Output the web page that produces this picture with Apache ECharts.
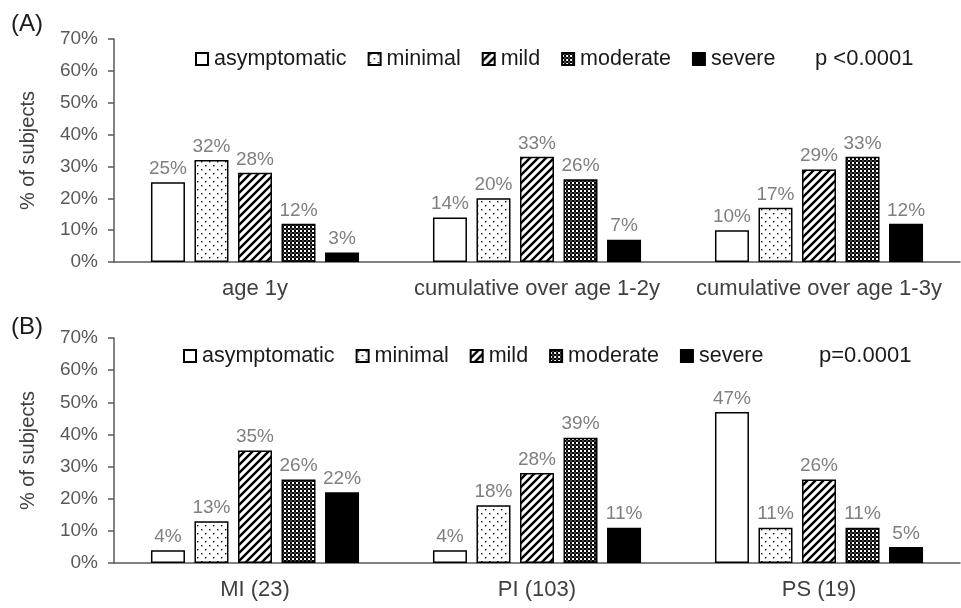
<!DOCTYPE html>
<html>
<head>
<meta charset="utf-8">
<script src="https://cdn.jsdelivr.net/npm/echarts@6/dist/echarts.min.js"></script>
<style>
  html, body { margin: 0; padding: 0; background: #fff; }
  #chart { width: 961px; height: 608px; }
</style>
</head>
<body>
<div id="chart"></div>
<script>
// Severity classes (legend order)
const severityNames = ['asymptomatic', 'minimal', 'mild', 'moderate', 'severe'];

// Panel A: by age window
const ageCategories = ['age 1y', 'cumulative over age 1-2y', 'cumulative over age 1-3y'];
const ageAsymptomatic = [25, 14, 10];
const ageMinimal      = [32, 20, 17];
const ageMild         = [28, 33, 29];
const ageModerate     = [12, 26, 33];
const ageSevere       = [3, 7, 12];

// Panel B: by group (n)
const groupCategories = ['MI (23)', 'PI (103)', 'PS (19)'];
const groupAsymptomatic = [4, 4, 47];
const groupMinimal      = [13, 18, 11];
const groupMild         = [35, 28, 26];
const groupModerate     = [26, 39, 11];
const groupSevere       = [22, 11, 5];

const yTicks = [0, 10, 20, 30, 40, 50, 60, 70];
const pValueA = 'p <0.0001';
const pValueB = 'p=0.0001';

const FONT = "'Liberation Sans', Arial, sans-serif";

// --- fill patterns ---
function makeTile(w, h, draw) {
  const c = document.createElement('canvas');
  c.width = w; c.height = h;
  const ctx = c.getContext('2d');
  ctx.fillStyle = '#fff';
  ctx.fillRect(0, 0, w, h);
  ctx.fillStyle = '#000';
  ctx.strokeStyle = '#000';
  draw(ctx);
  return { image: c, repeat: 'repeat' };
}
const dotFill = makeTile(8, 8, ctx => {
  ctx.fillRect(1, 1, 1.4, 1.4);
  ctx.fillRect(5, 5, 1.4, 1.4);
});
const hatchFill = makeTile(8, 8, ctx => {
  ctx.lineWidth = 2.4;
  ctx.beginPath();
  ctx.moveTo(-2, 10); ctx.lineTo(10, -2);
  ctx.moveTo(-2, 2); ctx.lineTo(2, -2);
  ctx.moveTo(6, 10); ctx.lineTo(10, 6);
  ctx.stroke();
});
const checkFill = makeTile(4, 4, ctx => {
  ctx.fillStyle = '#000';
  ctx.fillRect(0, 0, 2, 2);
  ctx.fillRect(2, 2, 2, 2);
  ctx.fillStyle = '#444';
  ctx.fillRect(2, 0, 2, 2);
});
const fills = ['#ffffff', dotFill, hatchFill, checkFill, '#000000'];

const axisGrey = '#595959';

function buildSeries(values, axisIndex) {
  return values.map((vals, i) => ({
    name: severityNames[i],
    type: 'bar',
    xAxisIndex: axisIndex,
    yAxisIndex: axisIndex,
    data: vals,
    barWidth: 34,
    barGap: '28%',
    itemStyle: { color: fills[i], borderColor: '#000', borderWidth: 1.5 },
    label: {
      show: true,
      position: 'top',
      distance: 4,
      formatter: p => p.value + '%',
      color: '#7f7f7f',
      fontSize: 19,
      fontFamily: FONT
    },
    emphasis: { disabled: true }
  }));
}

function yAxisDef(gridIndex) {
  return {
    type: 'value',
    gridIndex,
    min: yTicks[0],
    max: yTicks[yTicks.length - 1],
    interval: 10,
    name: '% of subjects',
    nameLocation: 'middle',
    nameRotate: 90,
    nameGap: 76,
    nameTextStyle: { fontSize: 20, color: '#404040', fontFamily: FONT },
    axisLine: { show: true, lineStyle: { color: axisGrey, width: 1.5 } },
    axisTick: { show: true, inside: false, length: 6, lineStyle: { color: axisGrey, width: 1.5 } },
    axisLabel: { formatter: v => v + '%', fontSize: 19, color: '#595959', margin: 16, fontFamily: FONT },
    splitLine: { show: false }
  };
}

function xAxisDef(gridIndex, cats) {
  return {
    type: 'category',
    gridIndex,
    data: cats,
    axisLine: { show: true, lineStyle: { color: axisGrey, width: 1.5 } },
    axisTick: { show: false },
    axisLabel: { fontSize: 22, color: '#404040', margin: 16, fontFamily: FONT, interval: 0 }
  };
}

function legendDef(left, top) {
  return {
    data: severityNames,
    left, top,
    itemWidth: 12,
    itemHeight: 12,
    itemGap: 21,
    icon: 'rect',
    textStyle: { fontSize: 21.5, color: '#1a1a1a', fontFamily: FONT, padding: [0, 0, 0, 1] },
    selectedMode: false
  };
}

const chart = echarts.init(document.getElementById('chart'), null, { renderer: 'canvas' });

const option = {
  backgroundColor: '#fff',
  animation: false,
  title: [
    { text: '(A)', left: 6, top: 7, textStyle: { fontSize: 24, fontWeight: 'normal', color: '#1a1a1a', fontFamily: FONT } },
    { text: '(B)', left: 6, top: 310, textStyle: { fontSize: 24, fontWeight: 'normal', color: '#1a1a1a', fontFamily: FONT } },
    { text: pValueA, left: 810, top: 43, textStyle: { fontSize: 22, fontWeight: 'normal', color: '#1a1a1a', fontFamily: FONT } },
    { text: pValueB, left: 814, top: 340, textStyle: { fontSize: 22, fontWeight: 'normal', color: '#1a1a1a', fontFamily: FONT } }
  ],
  legend: [legendDef(190, 43), legendDef(178, 340)],
  grid: [
    { left: 114, right: 1, top: 39, bottom: 346 },
    { left: 114, right: 1, top: 338, bottom: 45 }
  ],
  xAxis: [xAxisDef(0, ageCategories), xAxisDef(1, groupCategories)],
  yAxis: [yAxisDef(0), yAxisDef(1)],
  series: [
    ...buildSeries([ageAsymptomatic, ageMinimal, ageMild, ageModerate, ageSevere], 0),
    ...buildSeries([groupAsymptomatic, groupMinimal, groupMild, groupModerate, groupSevere], 1)
  ]
};

chart.setOption(option);
</script>
</body>
</html>
